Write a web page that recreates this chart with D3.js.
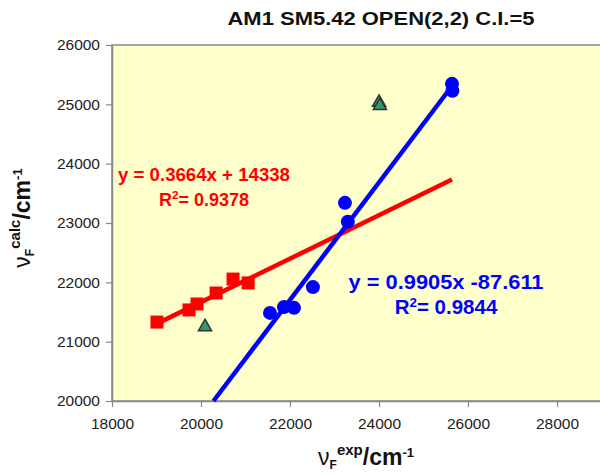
<!DOCTYPE html>
<html>
<head>
<meta charset="utf-8">
<script src="https://cdn.jsdelivr.net/npm/d3@7"></script>
<style>
  body { margin: 0; background: #fff; }
  svg { display: block; font-family: "Liberation Sans", Arial, sans-serif; }
</style>
</head>
<body>
<div id="chart"></div>
<script>
// data
const xTicks = [18000, 20000, 22000, 24000, 26000, 28000];
const yTicks = [20000, 21000, 22000, 23000, 24000, 25000, 26000];

const redX = [19010, 19730, 19910, 20340, 20720, 21060];
const redY = [21330, 21535, 21635, 21820, 22055, 21990];

const blueX = [21550, 21865, 22090, 22515, 23235, 23300, 25640, 25650];
const blueY = [21485, 21585, 21570, 21920, 23340, 23020, 25345, 25230];

const greenX = [20090, 24000, 24020];
const greenY = [21250, 25030, 24975];

// fit lines from the chart (slope, intercept, x range)
const redFit = { m: 0.3664, b: 14338, x0: 19000, x1: 25640 };
const blueFit = { m: 0.9905, b: -87.611, x0: 20280, x1: 25640 };

const width = 600, height = 474;
const margin = { top: 45, left: 112, bottom: 401 };

const svg = d3.select("#chart").append("svg")
  .attr("width", width).attr("height", height);

const x = d3.scaleLinear().domain([18000, 30000]).range([margin.left, 646]);
const y = d3.scaleLinear().domain([20000, 26000]).range([margin.bottom, margin.top]);

// plot background
svg.append("rect")
  .attr("x", x(18000)).attr("y", y(26000))
  .attr("width", x(30000) - x(18000)).attr("height", y(20000) - y(26000))
  .attr("fill", "#ffffcc").attr("stroke", "#888").attr("stroke-width", 1.5);

// axes
const xAxis = svg.append("g")
  .attr("transform", "translate(0," + y(20000) + ")")
  .call(d3.axisBottom(x).tickValues(xTicks).tickSize(6).tickSizeOuter(0).tickFormat(d3.format("d")));
const yAxis = svg.append("g")
  .attr("transform", "translate(" + x(18000) + ",0)")
  .call(d3.axisLeft(y).tickValues(yTicks).tickSize(6).tickSizeOuter(0).tickFormat(d3.format("d")));

[xAxis, yAxis].forEach(g => {
  g.select(".domain").attr("stroke", "#888").attr("stroke-width", 1.5);
  g.selectAll(".tick line").attr("stroke", "#888").attr("stroke-width", 1.2);
  g.selectAll(".tick text").attr("fill", "#222").style("font-size", "15.5px");
});
xAxis.selectAll(".tick text").attr("dy", "1.2em");
yAxis.selectAll(".tick text").attr("x", -12);

const clip = svg.append("g");

// regression lines
function fitLine(f, color) {
  clip.append("line")
    .attr("x1", x(f.x0)).attr("y1", y(f.m * f.x0 + f.b))
    .attr("x2", x(f.x1)).attr("y2", y(f.m * f.x1 + f.b))
    .attr("stroke", color).attr("stroke-width", 4.5);
}
fitLine(redFit, "#ff0000");
fitLine(blueFit, "#0000ff");

// red squares
clip.selectAll(".sq").data(d3.range(redX.length)).enter().append("rect")
  .attr("x", i => x(redX[i]) - 6.5).attr("y", i => y(redY[i]) - 6.5)
  .attr("width", 13).attr("height", 13).attr("fill", "#ff0000");

// blue circles
clip.selectAll(".ci").data(d3.range(blueX.length)).enter().append("circle")
  .attr("cx", i => x(blueX[i])).attr("cy", i => y(blueY[i]))
  .attr("r", 7).attr("fill", "#0000ff");

// green triangles
const tri = d3.symbol().type(d3.symbolTriangle).size(75);
clip.selectAll(".tr").data(d3.range(greenX.length)).enter().append("path")
  .attr("d", tri)
  .attr("transform", i => "translate(" + x(greenX[i]) + "," + y(greenY[i]) + ")")
  .attr("fill", "#339966").attr("stroke", "#333").attr("stroke-width", 1.5);

// equations
function eq(text, r2, cx, by, fs, w1, color) {
  svg.append("text").attr("x", cx).attr("y", by)
    .attr("text-anchor", "middle").attr("fill", color)
    .attr("textLength", w1).attr("lengthAdjust", "spacingAndGlyphs")
    .style("font-size", fs + "px").style("font-weight", "bold").text(text);
  const t = svg.append("text").attr("x", cx).attr("y", by + 25)
    .attr("text-anchor", "middle").attr("fill", color)
    .style("font-size", fs + "px").style("font-weight", "bold");
  t.append("tspan").text("R");
  t.append("tspan").attr("dy", -7).style("font-size", (fs * 0.65) + "px").text("2");
  t.append("tspan").attr("dy", 7).text("= " + r2);
}
eq("y = 0.3664x + 14338", "0.9378", 204, 181, 18, 172, "#ff0000");
eq("y = 0.9905x -87.611", "0.9844", 446, 289, 20.5, 195, "#0000ff");

// title
svg.append("text").attr("x", 381).attr("y", 25)
  .attr("text-anchor", "middle").attr("fill", "#111")
  .attr("textLength", 307).attr("lengthAdjust", "spacingAndGlyphs")
  .style("font-size", "18px").style("font-weight", "bold")
  .text("AM1 SM5.42 OPEN(2,2) C.I.=5");

// axis titles
function axisTitle(g, sup) {
  g.append("tspan").style("font-size", "23px").style("font-weight", "normal").text("ν");
  g.append("tspan").attr("dy", 4).style("font-size", "12px").text("F");
  g.append("tspan").attr("dy", -14).style("font-size", "15px").text(sup);
  g.append("tspan").attr("dy", 10).style("font-size", "23px").text("/cm");
  g.append("tspan").attr("dy", -8).style("font-size", "13px").text("-1");
}
const xt = svg.append("text").attr("x", 366).attr("y", 465)
  .attr("text-anchor", "middle").attr("fill", "#111").style("font-weight", "bold");
axisTitle(xt, "exp");

const yt = svg.append("text").attr("transform", "translate(30,218) rotate(-90)")
  .attr("text-anchor", "middle").attr("fill", "#111").style("font-weight", "bold");
axisTitle(yt, "calc");
</script>
</body>
</html>
